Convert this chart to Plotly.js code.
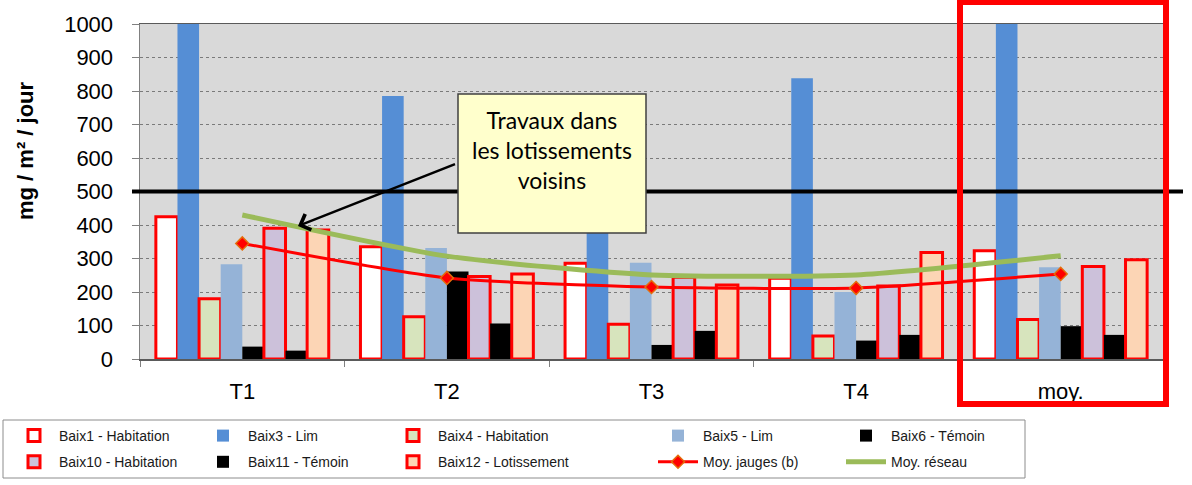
<!DOCTYPE html>
<html>
<head>
<meta charset="utf-8">
<script src="https://cdn.plot.ly/plotly-3.0.1.min.js"></script>
<style>html,body{margin:0;padding:0;background:#fff;}#chart{width:1192px;height:485px;}</style>
</head>
<body>
<div id="chart"></div>
<script>
var categories = ['T1', 'T2', 'T3', 'T4', 'moy.'];
var baix1 = [425, 335, 286, 241, 323];
var baix3 = [1715, 785, 740, 838, 1020];
var baix4 = [180, 126, 104, 69, 118];
var baix5 = [283, 331, 287, 200, 274];
var baix6 = [37, 261, 42, 55, 98];
var baix10 = [390, 246, 244, 218, 276];
var baix11 = [25, 106, 84, 72, 72];
var baix12 = [385, 254, 221, 318, 296];
var moyJauges = [345, 242, 215, 212, 254];
var moyReseau = [430, 307, 251, 251, 308];
var seuil = 500;
var yTicks = [0, 100, 200, 300, 400, 500, 600, 700, 800, 900, 1000];

var RED = '#FF0000';
var FONT = 'Arial, "Liberation Sans", sans-serif';

function outlinedBar(name, vals, fill, leg) {
  return {type: 'bar', name: name, x: categories, y: vals, legend: leg, legendgroup: name,
    marker: {color: fill, line: {color: RED, width: 3}}, hoverinfo: 'skip'};
}
function solidBar(name, vals, fill, leg) {
  return {type: 'bar', name: name, x: categories, y: vals, legend: leg, legendgroup: name,
    marker: {color: fill, line: {width: 0}}, hoverinfo: 'skip'};
}

var traces = [
  outlinedBar('Baix1 - Habitation', baix1, '#FFFFFF', 'legend'),
  solidBar('Baix3 - Lim', baix3, '#558ED5', 'legend2'),
  outlinedBar('Baix4 - Habitation', baix4, '#D7E4BD', 'legend3'),
  solidBar('Baix5 - Lim', baix5, '#95B3D7', 'legend4'),
  solidBar('Baix6 - Témoin', baix6, '#000000', 'legend5'),
  outlinedBar('Baix10 - Habitation', baix10, '#CCC1DA', 'legend'),
  solidBar('Baix11 - Témoin', baix11, '#000000', 'legend2'),
  outlinedBar('Baix12 - Lotissement', baix12, '#FCD5B5', 'legend3'),
  {type: 'scatter', mode: 'lines+markers', name: 'Moy. jauges (b)', x: categories, y: moyJauges,
    legend: 'legend4', legendgroup: 'mj',
    line: {color: RED, width: 3, shape: 'spline', smoothing: 0.6},
    marker: {symbol: 'diamond', size: 10, color: RED, line: {color: '#E46C0A', width: 1.5}}},
  {type: 'scatter', mode: 'lines', name: 'Moy. réseau', x: categories, y: moyReseau,
    legend: 'legend5', legendgroup: 'mr',
    line: {color: '#9BBB59', width: 5, shape: 'spline', smoothing: 0.6}}
];

function px2x(p) { return (p - 140) / 1023; }
function px2y(p) { return (359 - p) / 335; }

function leg(xpx, ypx) {
  return {xref: 'container', yref: 'container', x: xpx / 1192, y: 1 - ypx / 485,
    xanchor: 'left', yanchor: 'top', orientation: 'v', bgcolor: 'rgba(0,0,0,0)',
    borderwidth: 0, tracegroupgap: 5, itemwidth: 40,
    font: {family: FONT, size: 14, color: '#1a1a1a'}};
}

var layout = {
  width: 1192, height: 485,
  margin: {l: 140, r: 29, t: 24, b: 126, autoexpand: false},
  paper_bgcolor: '#FFFFFF',
  plot_bgcolor: '#D9D9D9',
  barmode: 'group', bargap: 0.155, bargroupgap: 0,
  showlegend: true,
  font: {family: FONT, color: '#000'},
  xaxis: {
    type: 'category', showline: true, linecolor: '#5a5a5a', linewidth: 1.5, mirror: true,
    ticks: 'outside', ticklen: 6, tickcolor: '#808080', tickson: 'boundaries',
    ticklabelstandoff: 12, tickangle: 0, automargin: false,
    tickfont: {family: FONT, size: 22, color: '#000'}, showgrid: false, zeroline: false
  },
  yaxis: {
    range: [0, 1000], tickvals: yTicks, ticktext: yTicks.map(String), automargin: false,
    showline: true, linecolor: '#808080', linewidth: 1.5,
    ticks: 'outside', ticklen: 7, tickcolor: '#808080', ticklabelstandoff: 14,
    tickfont: {family: FONT, size: 22, color: '#000'},
    showgrid: true, gridcolor: '#7a7a7a', gridwidth: 1, griddash: 'dot', zeroline: false
  },
  legend: leg(9, 420),
  legend2: leg(198, 420),
  legend3: leg(388, 420),
  legend4: leg(653, 420),
  legend5: leg(841, 420),
  shapes: [
    {type: 'line', xref: 'paper', yref: 'y', x0: px2x(132), x1: px2x(1183), y0: seuil, y1: seuil,
      line: {color: '#000', width: 4}, layer: 'above'},
    {type: 'rect', xref: 'paper', yref: 'paper', x0: px2x(458), x1: px2x(646), y0: px2y(233), y1: px2y(94),
      fillcolor: '#FFFFCC', line: {color: '#404040', width: 1.5}, layer: 'above'},
    {type: 'rect', xref: 'paper', yref: 'paper', x0: px2x(960), x1: px2x(1166), y0: px2y(404), y1: px2y(2),
      fillcolor: 'rgba(0,0,0,0)', line: {color: RED, width: 6}, layer: 'above'},
    {type: 'rect', xref: 'paper', yref: 'paper', x0: px2x(3), x1: px2x(1025), y0: px2y(478), y1: px2y(420),
      fillcolor: 'rgba(0,0,0,0)', line: {color: '#8c8c8c', width: 1}, layer: 'above'}
  ],
  annotations: [
    {xref: 'paper', yref: 'paper', x: px2x(25), y: px2y(151), text: '<b>mg / m² / jour</b>',
      textangle: -90, showarrow: false, xanchor: 'center', yanchor: 'middle',
      font: {family: FONT, size: 22, color: '#000'}},
    {xref: 'paper', yref: 'paper', x: px2x(552), y: px2y(150), xanchor: 'center', yanchor: 'middle',
      text: 'Travaux dans<br>les lotissements<br>voisins', showarrow: false, align: 'center',
      font: {family: 'Lato, "Open Sans", sans-serif', size: 23, color: '#000'}},
    {xref: 'paper', yref: 'paper', x: px2x(298), y: px2y(226), text: ' ', showarrow: true,
      axref: 'pixel', ayref: 'pixel', ax: 160, ay: -63,
      arrowhead: 4, arrowsize: 1.3, arrowwidth: 2.5, arrowcolor: '#000', standoff: 0}
  ]
};

Plotly.newPlot('chart', traces, layout, {displayModeBar: false, staticPlot: true});
</script>
</body>
</html>
